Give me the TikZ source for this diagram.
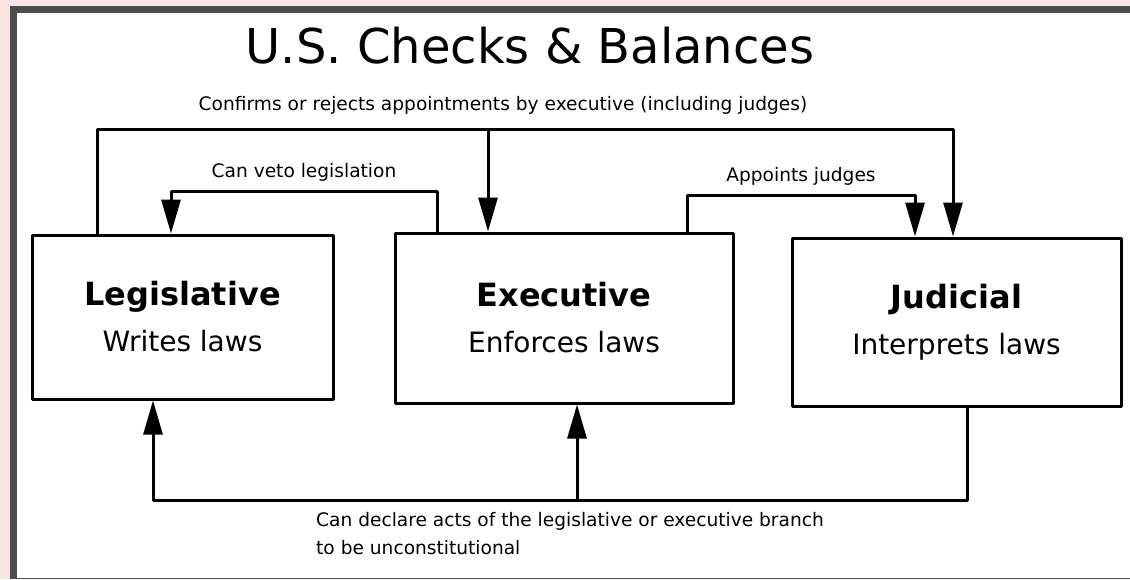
\documentclass[tikz,border=0pt]{standalone}
\usepackage{fontspec}
\setmainfont{DejaVu Sans}
\usetikzlibrary{arrows.meta}

\definecolor{pinkbg}{RGB}{250,228,228}
\definecolor{framegray}{RGB}{77,77,77}

\tikzset{
    branchbox/.style={draw, line width=3pt, line join=round, align=center, inner sep=0pt,
        font=\fontsize{28}{46}\selectfont},
    linkline/.style={line width=3pt, line join=round},
    arrowed/.style={-{Triangle[length=34pt,width=19pt]}},
    labeltext/.style={inner sep=0pt, font=\fontsize{18.6}{28}\selectfont},
}

\begin{document}
\begin{tikzpicture}[x=1pt, y=-1pt]
    \useasboundingbox (0,0) rectangle (1130,579);

    % Рамка
    \fill[pinkbg] (0,0) rectangle (1130,579);
    \fill[framegray] (10,6) rectangle (1130,579);
    \fill[white] (17,13) rectangle (1130,578);

    % Заголовок
    \node (title) at (530,46) {\fontsize{48}{52}\selectfont U.S. Checks \& Balances};

    % Ветви власти
    \node[branchbox, minimum width=301pt, minimum height=164pt] (leg) at (182.5,317)
        {{\bfseries\fontsize{32}{46}\selectfont Legislative}\\Writes laws};
    \node[branchbox, minimum width=338pt, minimum height=170pt] (exec) at (564,318)
        {{\bfseries\fontsize{32}{46}\selectfont Executive}\\Enforces laws};
    \node[branchbox, minimum width=329pt, minimum height=168pt] (jud) at (956.5,322)
        {{\bfseries\fontsize{32}{46}\selectfont Judicial}\\Interprets laws};

    % Точки изломов
    \coordinate (confA) at (97,129);
    \coordinate (confB) at (953,129);
    \coordinate (confC) at (488,129);
    \coordinate (vetoA) at (437,191);
    \coordinate (vetoB) at (171,191);
    \coordinate (apptA) at (687,195);
    \coordinate (apptB) at (915,195);
    \coordinate (botA) at (967,500);
    \coordinate (botB) at (153,500);
    \coordinate (botC) at (577,500);

    % Утверждение назначений
    \draw[linkline, arrowed] (leg.north -| confA) -- (confA) -- (confB) -- (jud.north -| confB);
    \draw[linkline, arrowed] (confC) -- (exec.north -| confC);
    \node[labeltext] (confirms) at (503,105)
        {Confirms or rejects appointments by executive (including judges)};

    % Вето
    \draw[linkline, arrowed] (exec.north -| vetoA) -- (vetoA)
        -- node[labeltext, above=8pt] (veto) {Can veto legislation} (vetoB)
        -- (leg.north -| vetoB);

    % Назначение судей
    \draw[linkline, arrowed] (exec.north -| apptA) -- (apptA)
        -- node[labeltext, above=8pt] (appoints) {Appoints judges} (apptB)
        -- (jud.north -| apptB);

    % Конституционный контроль
    \draw[linkline, arrowed] (jud.south -| botA) -- (botA) -- (botB) -- (leg.south -| botB);
    \draw[linkline, arrowed] (botC) -- (exec.south -| botC);
    \node[labeltext, anchor=north west, align=left] (declare) at (316,512)
        {Can declare acts of the legislative or executive branch\\to be unconstitutional};

\end{tikzpicture}
\end{document}
